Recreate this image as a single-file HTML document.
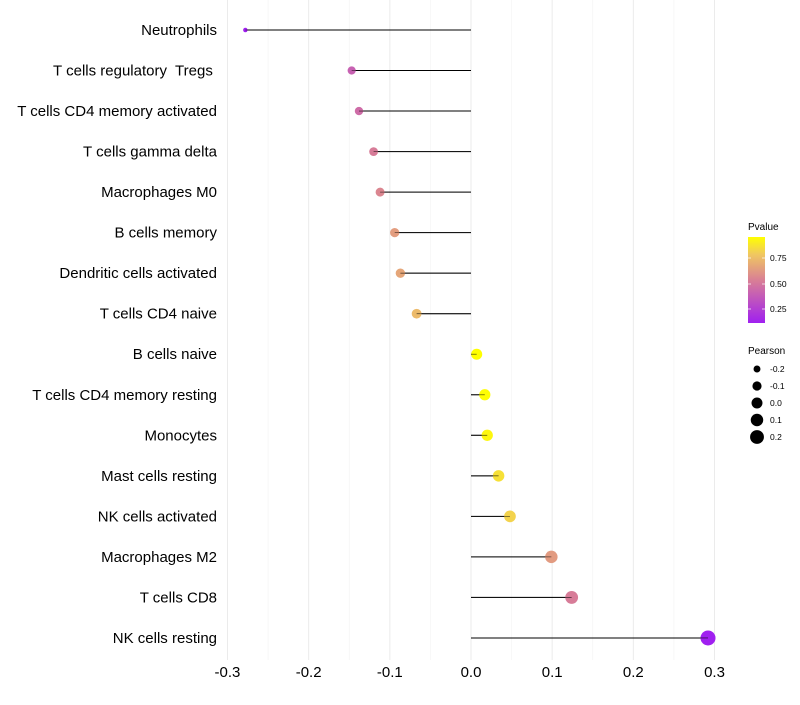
<!DOCTYPE html>
<html><head><meta charset="utf-8"><style>
body{margin:0;background:#fff;font-family:"Liberation Sans",sans-serif}
</style></head><body>
<svg id="c" width="800" height="700" xmlns="http://www.w3.org/2000/svg">
<defs><linearGradient id="pg" x1="0" y1="1" x2="0" y2="0">
<stop offset="0" stop-color="#A020F0"/><stop offset="0.5" stop-color="#D97F95"/><stop offset="0.8" stop-color="#F0C860"/><stop offset="1" stop-color="#FFFF00"/></linearGradient></defs>
<g id="grid"></g><g id="marks"></g><g id="axes"></g>
<g id="legend">
<text x="748" y="230" font-size="10">Pvalue</text>
<rect x="748" y="237" width="17" height="86" fill="url(#pg)"/>
<g font-size="8.5"><text x="770" y="261">0.75</text><text x="770" y="287">0.50</text><text x="770" y="312">0.25</text></g>
<g stroke="#fff" stroke-width="1" opacity="0.7"><line x1="748" y1="258" x2="751" y2="258"/><line x1="762" y1="258" x2="765" y2="258"/><line x1="748" y1="284" x2="751" y2="284"/><line x1="762" y1="284" x2="765" y2="284"/><line x1="748" y1="309" x2="751" y2="309"/><line x1="762" y1="309" x2="765" y2="309"/></g>
<text x="748" y="354" font-size="10">Pearson</text>
<g id="sizeleg"></g>
</g>
</svg>
<script>
const cats=["Neutrophils","T cells regulatory\u00a0 Tregs\u00a0","T cells CD4 memory activated","T cells gamma delta","Macrophages M0","B cells memory","Dendritic cells activated","T cells CD4 naive","B cells naive","T cells CD4 memory resting","Monocytes","Mast cells resting","NK cells activated","Macrophages M2","T cells CD8","NK cells resting"];
const pearson=[-0.278,-0.147,-0.138,-0.120,-0.112,-0.094,-0.087,-0.067,0.007,0.017,0.020,0.034,0.048,0.099,0.124,0.292];
const pvals=[0.11,0.40,0.45,0.52,0.56,0.64,0.67,0.74,0.96,0.95,0.93,0.86,0.82,0.63,0.52,0.11];
const xticks=[-0.3,-0.2,-0.1,0.0,0.1,0.2,0.3];
const sizeLegend=[-0.2,-0.1,0.0,0.1,0.2];
const NS="http://www.w3.org/2000/svg";
const X=v=>471+v*811.7, Y=i=>30+i*40.53;
const R=v=>Math.sqrt(Math.max(2,12+(v+0.2)*90));
function col(p){const t=Math.max(0,Math.min(1,(p-0.113)/(0.956-0.113)));
 const st=[[0,[160,32,240]],[0.5,[217,127,149]],[0.8,[240,200,96]],[1,[255,255,0]]];
 for(let k=1;k<st.length;k++){if(t<=st[k][0]){const a=st[k-1],b=st[k],f=(t-a[0])/(b[0]-a[0]);return "rgb("+a[1].map((c,j)=>Math.round(c+(b[1][j]-c)*f)).join(",")+")";}}return "rgb(255,255,0)";}
function mk(tag,at,par){const e=document.createElementNS(NS,tag);for(const k in at)e.setAttribute(k,at[k]);document.getElementById(par).appendChild(e);return e;}
for(let v=-0.3;v<=0.3001;v+=0.05){const g=mk("line",{x1:X(v),x2:X(v),y1:0,y2:660,stroke:Math.abs(Math.round(v*100))%10==0?"#ebebeb":"#f3f3f3","stroke-width":Math.abs(Math.round(v*100))%10==0?1:0.6},"grid");

}
xticks.forEach(v=>{const t=mk("text",{x:X(v),y:677,"font-size":15,"text-anchor":"middle"},"axes");t.textContent=v.toFixed(1);

});
cats.forEach((c,i)=>{const t=mk("text",{x:217,y:Y(i)+5,"font-size":15,"text-anchor":"end"},"axes");t.textContent=c;


const l=mk("line",{x1:X(0),x2:X(pearson[i]),y1:Y(i),y2:Y(i),stroke:"#000","stroke-width":1},"marks");


const d=mk("circle",{cx:X(pearson[i]),cy:Y(i),r:R(pearson[i]),fill:col(pvals[i])},"marks");


const l2=mk("line",{x1:X(0),x2:X(pearson[i]),y1:Y(i),y2:Y(i),stroke:"#000","stroke-width":0.8,opacity:0.6},"marks");

});
sizeLegend.forEach((v,i)=>{const y=369+i*17;const c=mk("circle",{cx:757,cy:y,r:R(v),fill:"#000"},"sizeleg");


const t=mk("text",{x:770,y:y+3,"font-size":8.5},"sizeleg");t.textContent=v.toFixed(1);

});
</script>
</body></html>
